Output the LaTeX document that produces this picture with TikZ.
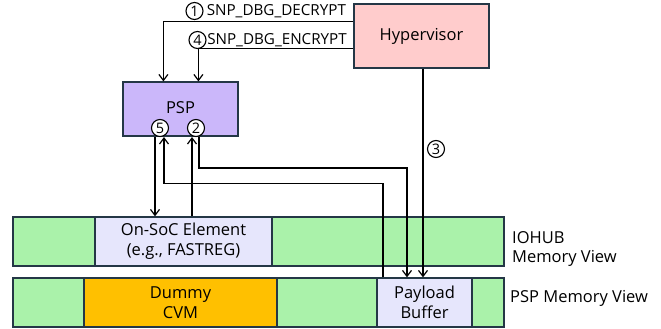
\documentclass[tikz,border=0pt]{standalone}
\usepackage{fontspec}
\setmainfont{Open Sans}
\usetikzlibrary{arrows.meta,calc}
\definecolor{edge}{HTML}{243746}
\definecolor{hvpink}{HTML}{FFCCCC}
\definecolor{psppurple}{HTML}{CBB7FA}
\definecolor{lav}{HTML}{E6E6FC}
\definecolor{memgreen}{HTML}{AAF2AA}
\definecolor{cvmorange}{HTML}{FFC000}
\tikzset{
  blk/.style={draw=edge, line width=1.2pt, inner sep=0pt, align=center,
    font=\fontsize{16.5}{20}\selectfont},
  arr/.style={draw=black, line width=1.2pt,
    -{Straight Barb[length=6pt,width=9pt]}},
  num/.style={circle, draw=black, line width=1.1pt, fill=white,
    minimum size=17pt, inner sep=0pt, font=\fontsize{14.5}{14.5}\selectfont},
  lbl/.style={inner sep=0pt, font=\fontsize{16.5}{19}\selectfont},
  cmd/.style={inner sep=0pt, font=\fontsize{15.2}{18}\selectfont},
}
\begin{document}
\begin{tikzpicture}[x=1pt,y=-1pt]
\useasboundingbox (0,0) rectangle (661,329);

% top-level blocks
\node[blk, fill=hvpink, minimum width=135pt, minimum height=64pt] (hv) at (421.5,36) {Hypervisor};
\node[blk, fill=psppurple, minimum width=115pt, minimum height=54pt] (psp) at (180.5,109) {\raisebox{2pt}{PSP}};

% IOHUB memory view row
\node[blk, fill=memgreen, minimum width=491pt, minimum height=49pt] (iorow) at (258.5,241.5) {};
\node[blk, fill=lav, minimum width=177pt, minimum height=49pt] (onsoc) at (183.5,241.5)
  {On-SoC Element\\(e.g., FASTREG)};

% PSP memory view row
\node[blk, fill=memgreen, minimum width=491pt, minimum height=49pt] (psprow) at (258.5,302.5) {};
\node[blk, fill=cvmorange, minimum width=193pt, minimum height=49pt] (cvm) at (180.5,302.5)
  {Dummy\\CVM};
\node[blk, fill=lav, minimum width=95pt, minimum height=49pt] (pay) at (424.5,302.5)
  {Payload\\Buffer};

% row captions
\node[lbl, anchor=west, align=left] (iocap) at (512,249) {IOHUB\\Memory View};
\node[lbl, anchor=west] (pspcap) at (510,298) {PSP Memory View};

% step markers on PSP
\node[num] (c5) at (160,128) {5};
\node[num] (c2) at (196,128) {2};

% commands from the hypervisor
\draw[arr] ([yshift=-18pt]hv.north west) -| ([xshift=41pt]psp.north west);
\draw[arr] ([yshift=-45pt]hv.north west) -| ([xshift=76pt]psp.north west);
\node[num] (c1) at (194.5,11) {1};
\node[cmd, anchor=west] (dec) at ([xshift=3pt]c1.east) {SNP\_DBG\_DECRYPT};
\node[num] (c4) at (197.5,40) {4};
\node[cmd, anchor=west] (enc) at ([xshift=0.5pt]c4.east) {SNP\_DBG\_ENCRYPT};

% step 3: hypervisor writes payload buffer
\draw[arr] ([xshift=1.5pt]hv.south) -- ([xshift=1.5pt]hv.south |- pay.north);
\node[num] (c3) at (436,149) {3};

% step 2: on-SoC element -> PSP -> payload buffer
\draw[arr] ([xshift=-4pt]c2.south |- onsoc.north) -- ([xshift=-4pt]c2.south);
\draw[arr] ([xshift=3pt]c2.south) -- ++(0,31) -| ([xshift=-17.5pt]pay.north);

% step 5: payload buffer -> PSP -> on-SoC element
\draw[arr] ([xshift=-41.5pt]pay.north) -- ++(0,-94) -| ([xshift=4pt]c5.south);
\draw[arr] ([xshift=-5pt]c5.south) -- ([xshift=-5pt]c5.south |- onsoc.north);
\end{tikzpicture}
\end{document}
